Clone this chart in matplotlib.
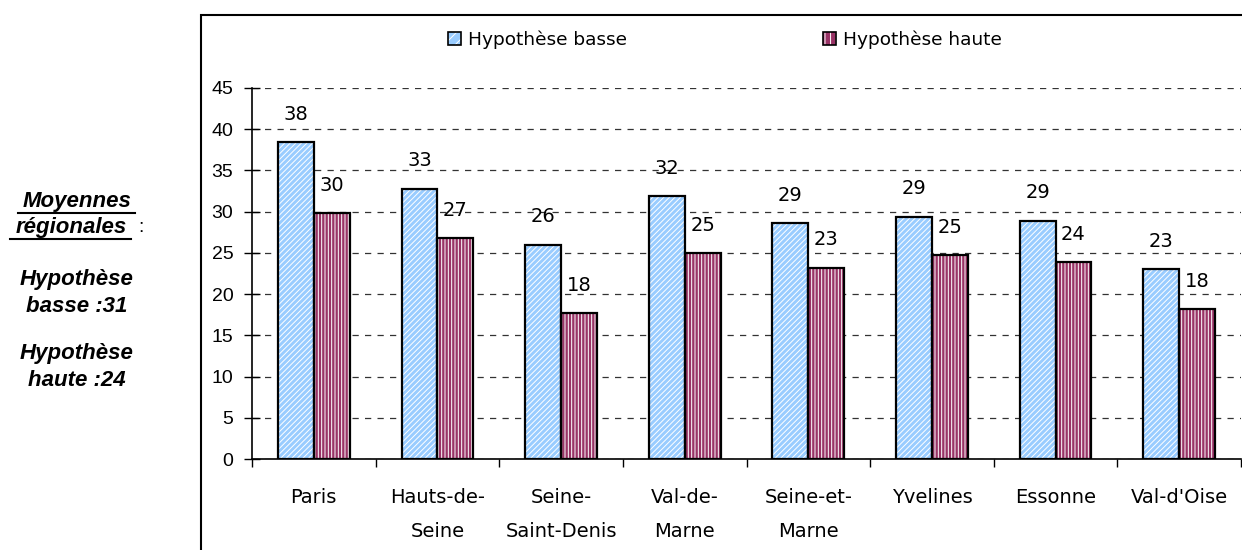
import numpy as np
import matplotlib.pyplot as plt
from matplotlib.patches import Patch, Rectangle
from matplotlib.lines import Line2D
from matplotlib.legend_handler import HandlerTuple

plt.rcParams['hatch.linewidth'] = 0.7

# data
departements = ['Paris', 'Hauts-de-\nSeine', 'Seine-\nSaint-Denis', 'Val-de-\nMarne',
                'Seine-et-\nMarne', 'Yvelines', 'Essonne', "Val-d'Oise"]
basse = [38.4, 32.8, 26.0, 31.9, 28.6, 29.4, 28.9, 23.0]
haute = [29.8, 26.8, 17.7, 25.0, 23.2, 24.7, 23.9, 18.2]
series_names = ['Hypothèse basse', 'Hypothèse haute']
yticks = [0, 5, 10, 15, 20, 25, 30, 35, 40, 45]

c_blue = '#99ccff'
c_red = '#993366'
w = 0.29

fig = plt.figure(figsize=(12.42, 5.5), dpi=100)
ax = fig.add_axes([252/1242, 91/550, (1241-252)/1242, (459-88)/550])

x = np.arange(len(departements))
ax.bar(x - w/2, basse, w, color=c_blue, hatch='//////', edgecolor='white', linewidth=0, zorder=2)
ax.bar(x - w/2, basse, w, fill=False, edgecolor='black', linewidth=1.6, zorder=3)
ax.bar(x + w/2, haute, w, color=c_red, hatch='|||||', edgecolor='white', linewidth=0, zorder=2)
ax.bar(x + w/2, haute, w, fill=False, edgecolor='black', linewidth=1.6, zorder=3)

lab_font = dict(family='DejaVu Sans', fontsize=14)
for i in range(len(x)):
    ax.annotate('%d' % round(basse[i]), (x[i] - w/2, basse[i]), xytext=(0, 20),
                textcoords='offset points', ha='center', va='center', **lab_font)
    ax.annotate('%d' % round(haute[i]), (x[i] + w/2, haute[i]), xytext=(0, 20),
                textcoords='offset points', ha='center', va='center', **lab_font)

ax.set_xlim(-0.5, len(x) - 0.5)
ax.set_ylim(0, 45)
ax.set_yticks(yticks)
ax.set_yticklabels([str(t) for t in yticks], family='Liberation Sans', fontsize=14)
ax.tick_params(axis='y', direction='inout', length=11, width=1, pad=8)
ax.yaxis.grid(True, linestyle=(0, (5, 5)), color='#333333', linewidth=0.9)
ax.set_axisbelow(True)

ax.set_xticks(np.arange(len(x) + 1) - 0.5)
ax.set_xticklabels([])
ax.tick_params(axis='x', which='major', direction='out', length=6, width=1)
ax.set_xticks(x, minor=True)
ax.set_xticklabels(departements, minor=True, family='DejaVu Sans', fontsize=14,
                   linespacing=2.0, va='top')
ax.tick_params(axis='x', which='minor', length=0, pad=21)

for s in ['top', 'right']:
    ax.spines[s].set_visible(False)
ax.spines['left'].set_linewidth(1.2)
ax.spines['bottom'].set_linewidth(1.2)

# chart frame
fig.add_artist(Rectangle((201/1242, -0.05), 1.1, (550-15)/550 + 0.05, transform=fig.transFigure,
                         fill=False, edgecolor='black', linewidth=1.5))

# legend
h1 = (Patch(facecolor=c_blue, hatch='///', edgecolor='white', linewidth=0),
      Patch(fill=False, edgecolor='black', linewidth=1.2))
h2 = (Patch(facecolor=c_red, hatch='|||', edgecolor='white', linewidth=0),
      Patch(fill=False, edgecolor='black', linewidth=1.2))
fig.legend([h1, h2], series_names, handler_map={tuple: HandlerTuple(ndivide=1)},
           loc='center', bbox_to_anchor=(725/1242, 1 - 40/550), ncol=2, frameon=False,
           handlelength=0.7, handleheight=0.7, handletextpad=0.4, columnspacing=10.6,
           prop={'family': 'DejaVu Sans', 'size': 13.3})

# side note
bi = dict(family='Liberation Sans', weight='bold', style='italic', fontsize=16, ha='center', va='center')
fig.text(77/1242, 1 - 202/550, 'Moyennes', **bi)
fig.text(71/1242, 1 - 227/550, 'régionales', **bi)
fig.text(141/1242, 1 - 227/550, ':', family='Liberation Sans', fontsize=14, ha='center', va='center')
fig.text(77/1242, 1 - 280/550, 'Hypothèse', **bi)
fig.text(77/1242, 1 - 307/550, 'basse :31', **bi)
fig.text(77/1242, 1 - 353/550, 'Hypothèse', **bi)
fig.text(77/1242, 1 - 380/550, 'haute :24', **bi)
fig.add_artist(Line2D([18/1242, 135/1242], [1 - 213/550, 1 - 213/550], color='black', linewidth=1.5))
fig.add_artist(Line2D([10/1242, 131/1242], [1 - 239/550, 1 - 239/550], color='black', linewidth=1.5))

fig.savefig('out.png', dpi=100)
